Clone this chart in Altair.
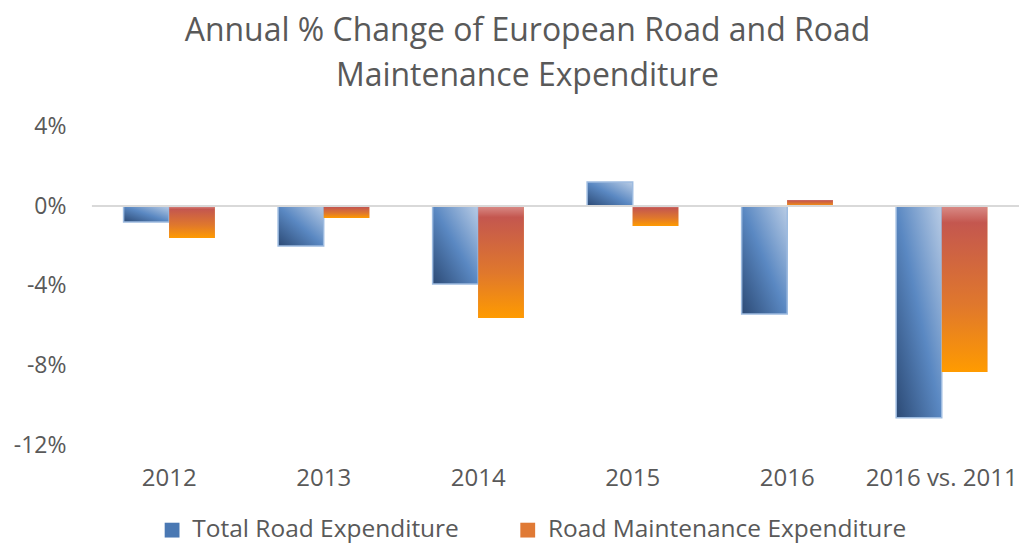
import altair as alt
import pandas as pd

categories = ["2012", "2013", "2014", "2015", "2016", "2016 vs. 2011"]
total_road = [-0.8, -2.0, -3.9, 1.2, -5.4, -10.6]
road_maint = [-1.6, -0.6, -5.6, -1.0, 0.3, -8.3]
series_names = ["Total Road Expenditure", "Road Maintenance Expenditure"]
y_ticks = [-12, -8, -4, 0, 4]

rows = []
for c, t, m in zip(categories, total_road, road_maint):
    rows.append({"cat": c, "series": series_names[0], "value": t})
    rows.append({"cat": c, "series": series_names[1], "value": m})
df = pd.DataFrame(rows)

FONT = "Open Sans"
TXT = "#595959"

x_enc = alt.X("cat:N", sort=categories,
              scale=alt.Scale(paddingInner=0.41, paddingOuter=0.205),
              axis=alt.Axis(title=None, labelAngle=0, labelFontSize=24, labelColor=TXT,
                            labelFont=FONT, ticks=False, domain=False, labelPadding=21))
y_enc = alt.Y("value:Q", scale=alt.Scale(domain=[-12, 4], nice=False),
              axis=alt.Axis(title=None, values=y_ticks, labelExpr="datum.value + '%'",
                            labelFontSize=23, labelColor=TXT, labelFont=FONT,
                            ticks=False, domain=False, grid=False, labelPadding=26))
xo_enc = alt.XOffset("series:N", sort=series_names,
                     scale=alt.Scale(domain=series_names, paddingInner=0, paddingOuter=0))

base = alt.Chart(df)

legend_bars = base.mark_bar().encode(
    x=x_enc, y=y_enc, xOffset=xo_enc,
    color=alt.Color("series:N", sort=series_names,
                    scale=alt.Scale(domain=series_names, range=["#4a78b3", "#e07a35"]),
                    legend=alt.Legend(title=None, orient="none", direction="horizontal",
                                      legendX=68, legendY=392,
                                      symbolType="square", symbolSize=220,
                                      labelFontSize=24.5, labelColor=TXT, labelFont=FONT,
                                      labelLimit=0,
                                      columnPadding=56, labelOffset=8, symbolStrokeWidth=0)),
)

blue_grad = alt.Gradient(
    gradient="linear", x1=1, y1=0, x2=0, y2=1,
    stops=[alt.GradientStop(color="#b9cce5", offset=0),
           alt.GradientStop(color="#5a88c2", offset=0.5),
           alt.GradientStop(color="#2c4a75", offset=1)])
orange_grad = alt.Gradient(
    gradient="linear", x1=0, y1=0, x2=0, y2=1,
    stops=[alt.GradientStop(color="#d98c88", offset=0),
           alt.GradientStop(color="#c4574f", offset=0.1),
           alt.GradientStop(color="#e0782c", offset=0.6),
           alt.GradientStop(color="#ff9b00", offset=1)])

blue_bars = base.transform_filter(
    alt.datum.series == series_names[0]
).mark_bar(color=blue_grad, stroke="#9dbbe0", strokeWidth=1.5).encode(
    x=x_enc, y=y_enc, xOffset=xo_enc)

orange_bars = base.transform_filter(
    alt.datum.series == series_names[1]
).mark_bar(color=orange_grad).encode(
    x=x_enc, y=y_enc, xOffset=xo_enc)

zero = alt.Chart(pd.DataFrame({"z": [0]})).mark_rule(color="#d9d9d9", strokeWidth=2).encode(
    y=alt.Y("z:Q"))

chart = alt.layer(legend_bars, blue_bars, orange_bars, zero).properties(
    width=928, height=320,
    padding={"left": 5, "top": 7, "right": 0, "bottom": 3},
    title=alt.TitleParams(
        text=["Annual % Change of European Road and Road", "Maintenance Expenditure"],
        fontSize=32, font=FONT, fontWeight="normal", color=TXT, lineHeight=45,
        anchor="middle", dx=-28, offset=22),
).configure_view(stroke=None)

chart.save("out.html", embed_options={"renderer": "svg", "actions": False})
